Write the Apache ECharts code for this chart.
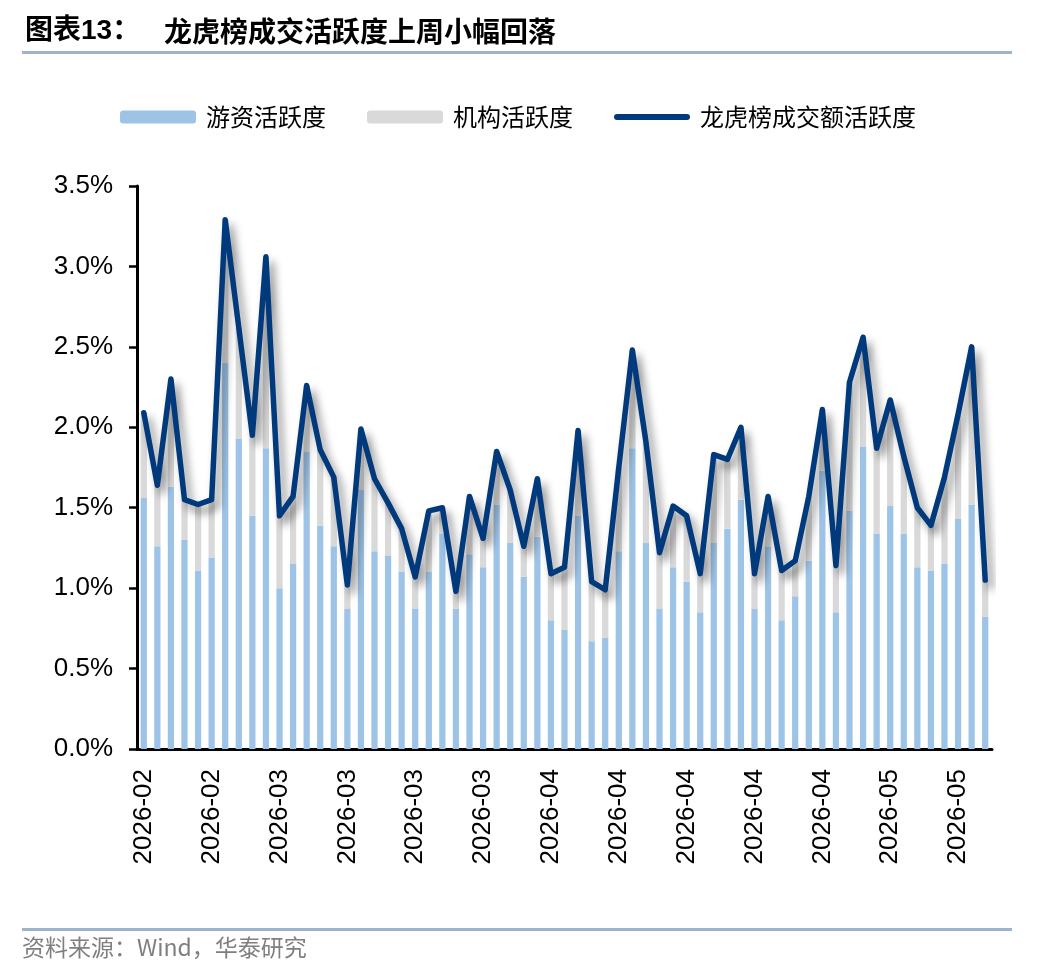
<!DOCTYPE html>
<html>
<head>
<meta charset="utf-8">
<script src="https://cdn.jsdelivr.net/npm/echarts@6/dist/echarts.min.js"></script>
<style>
html,body{margin:0;padding:0;background:#fff;}
#chart{width:1048px;height:976px;}
</style>
</head>
<body>
<div id="chart"></div>
<script>
const dates = [
'2026-02-02','2026-02-03','2026-02-04','2026-02-05','2026-02-06','2026-02-09','2026-02-10','2026-02-11','2026-02-12','2026-02-13',
'2026-03-02','2026-03-03','2026-03-04','2026-03-05','2026-03-06','2026-03-09','2026-03-10','2026-03-11','2026-03-12','2026-03-13',
'2026-03-16','2026-03-17','2026-03-18','2026-03-19','2026-03-20','2026-03-23','2026-03-24','2026-03-25','2026-03-26','2026-03-27',
'2026-04-01','2026-04-02','2026-04-03','2026-04-07','2026-04-08','2026-04-09','2026-04-10','2026-04-13','2026-04-14','2026-04-15',
'2026-04-16','2026-04-17','2026-04-20','2026-04-21','2026-04-22','2026-04-23','2026-04-24','2026-04-27','2026-04-28','2026-04-29',
'2026-04-30','2026-05-06','2026-05-07','2026-05-08','2026-05-11','2026-05-12','2026-05-13','2026-05-14','2026-05-15','2026-05-18',
'2026-05-19','2026-05-20','2026-05-21'];

// 游资活跃度 (%)
const youziActivity = [
1.56,1.26,1.63,1.30,1.11,1.19,2.40,1.93,1.45,1.87,
1.00,1.15,1.85,1.39,1.26,0.87,1.61,1.23,1.20,1.10,
0.87,1.10,1.34,0.87,1.21,1.13,1.52,1.28,1.07,1.32,
0.80,0.74,1.45,0.67,0.69,1.23,1.87,1.28,0.87,1.13,
1.04,0.85,1.28,1.37,1.55,0.87,1.26,0.80,0.95,1.17,
1.73,0.85,1.48,1.88,1.34,1.51,1.34,1.13,1.11,1.15,
1.43,1.52,0.82];

// 机构活跃度 (%)
const jigouActivity = [
0.53,0.38,0.67,0.25,0.41,0.36,0.89,0.69,0.50,1.19,
0.45,0.42,0.41,0.47,0.43,0.15,0.38,0.45,0.33,0.27,
0.20,0.38,0.16,0.11,0.36,0.18,0.33,0.33,0.19,0.36,
0.29,0.39,0.53,0.37,0.30,0.52,0.61,0.63,0.35,0.38,
0.41,0.24,0.55,0.43,0.45,0.22,0.31,0.31,0.22,0.40,
0.38,0.29,0.80,0.68,0.53,0.66,0.48,0.37,0.28,0.54,
0.65,0.98,0.23];

// 龙虎榜成交额活跃度 (%)
const totalActivity = [
2.09,1.64,2.30,1.55,1.52,1.55,3.29,2.62,1.95,3.06,
1.45,1.57,2.26,1.86,1.69,1.02,1.99,1.68,1.53,1.37,
1.07,1.48,1.50,0.98,1.57,1.31,1.85,1.61,1.26,1.68,
1.09,1.13,1.98,1.04,0.99,1.75,2.48,1.91,1.22,1.51,
1.45,1.09,1.83,1.80,2.00,1.09,1.57,1.11,1.17,1.57,
2.11,1.14,2.28,2.56,1.87,2.17,1.82,1.50,1.39,1.69,
2.08,2.50,1.05];

const yTicks = {min: 0, max: 3.5, interval: 0.5};

const seriesNames = ['游资活跃度', '机构活跃度', '龙虎榜成交额活跃度'];

const chart = echarts.init(document.getElementById('chart'), null, {renderer: 'canvas'});

const legendText = {fontSize: 24, color: '#000', fontFamily: 'Noto Sans CJK SC', padding: [0, 0, 0, 5]};

const option = {
  animation: false,
  backgroundColor: '#fff',
  graphic: [
    {type: 'text', left: 25, top: 17, style: {text: '图表13：', fontSize: 28, fontWeight: 'bold', fill: '#000', fontFamily: 'Liberation Sans, Noto Sans CJK SC'}},
    {type: 'text', left: 164, top: 17, style: {text: '龙虎榜成交活跃度上周小幅回落', fontSize: 28, fontWeight: 'bold', fill: '#000', fontFamily: 'Noto Sans CJK SC'}},
    {type: 'rect', shape: {x: 22, y: 51, width: 990, height: 3}, style: {fill: '#9fb4cc'}},
    {type: 'rect', shape: {x: 22, y: 928, width: 990, height: 3}, style: {fill: '#9fb4cc'}},
    {type: 'text', left: 22, top: 936, style: {text: '资料来源：Wind，华泰研究', fontSize: 23, fill: '#7f7f7f', fontFamily: 'Noto Sans CJK SC'}}
  ],
  legend: [
    {data: [seriesNames[0]], left: 120, top: 105, padding: 0, itemWidth: 76, itemHeight: 13, textStyle: legendText, selectedMode: false},
    {data: [seriesNames[1]], left: 367, top: 105, padding: 0, itemWidth: 76, itemHeight: 13, textStyle: legendText, selectedMode: false},
    {data: [{name: seriesNames[2], icon: 'path://M3,0 H73 A3,3 0 0 1 73,6 H3 A3,3 0 0 1 3,0 Z'}],
     left: 614, top: 105, padding: 0, itemWidth: 76, itemHeight: 6, textStyle: legendText, selectedMode: false,
     itemStyle: {color: '#003a7d', borderWidth: 0, shadowBlur: 0, shadowColor: 'transparent'},
     lineStyle: {width: 0, shadowBlur: 0, shadowOffsetX: 0, shadowOffsetY: 0, shadowColor: 'transparent'}}
  ],
  grid: {left: 137, right: 56, top: 186, bottom: 227, containLabel: false},
  xAxis: {
    type: 'category',
    data: dates,
    boundaryGap: true,
    axisLine: {lineStyle: {color: '#000', width: 3}},
    axisTick: {interval: 4, length: 8, lineStyle: {color: '#000', width: 2.5}},
    axisLabel: {
      interval: 4, rotate: 90, margin: 20, fontSize: 26, color: '#000', fontFamily: 'Liberation Sans',
      formatter: v => v.slice(0, 7)
    }
  },
  yAxis: {
    type: 'value',
    min: yTicks.min, max: yTicks.max, interval: yTicks.interval,
    axisLine: {show: true, lineStyle: {color: '#000', width: 3}},
    axisTick: {show: true, length: 8, lineStyle: {color: '#000', width: 2.5}},
    splitLine: {show: false},
    axisLabel: {fontSize: 26, color: '#000', margin: 24, fontFamily: 'Liberation Sans',
      formatter: v => v.toFixed(1) + '%'}
  },
  series: [
    {name: seriesNames[0], type: 'bar', stack: 'act', data: youziActivity, barWidth: '46%',
     itemStyle: {color: '#9dc3e6'}},
    {name: seriesNames[1], type: 'bar', stack: 'act', data: jigouActivity, barWidth: '46%',
     itemStyle: {color: '#d9d9d9'}},
    {name: seriesNames[2], type: 'line', data: totalActivity, symbol: 'none', z: 5,
     lineStyle: {color: '#003a7d', width: 5.5, join: 'round', cap: 'round',
       shadowColor: 'rgba(0,0,0,0.45)', shadowBlur: 9, shadowOffsetX: 5, shadowOffsetY: 7},
     itemStyle: {color: '#003a7d'}}
  ]
};
chart.setOption(option);
</script>
</body>
</html>
